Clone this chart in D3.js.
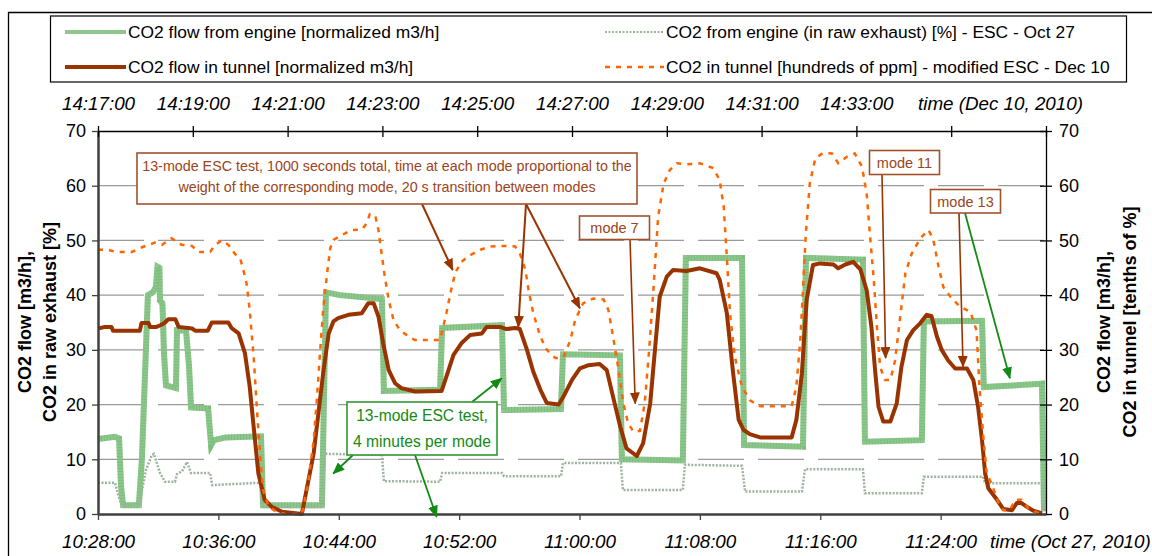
<!DOCTYPE html>
<html>
<head>
<meta charset="utf-8">
<script src="https://cdn.jsdelivr.net/npm/d3@7"></script>
<style>
body { margin: 0; background: #fff; }
svg text { font-family: "Liberation Sans", Arial, sans-serif; }
</style>
</head>
<body>
<div id="chart"></div>
<script>
// ---- data ----
// Oct 27 run (bottom time axis), [seconds after 10:28:00, value]
var engineFlow = [[0,13.7],[68,14.1],[84,13.8],[92,5],[100,1.6],[163,1.6],[175,10],[191,30],[199,40],[219,40.5],[231,41.5],[237,45.2],[245,45],[247,39],[257,38.5],[263,29.5],[271,23.5],[311,23],[315,33.6],[351,33.5],[363,27],[371,19.5],[439,19.3],[451,12.6],[462,13.5],[510,14],[650,14.2],[658,1.6],[893,1.6],[909,40.5],[965,40],[1132,39.3],[1140,22.5],[1364,22.7],[1372,34],[1611,34.5],[1619,19],[1846,19.2],[1854,29.2],[2081,29],[2089,10],[2332,9.8],[2344,46.8],[2568,46.8],[2576,12.6],[2811,12.3],[2823,46.8],[3050,46.5],[3058,13.2],[3285,13.5],[3293,35.2],[3525,35.3],[3532,23.2],[3764,23.8],[3772,0.5]];
var rawExhaust = [[0,5.7],[68,5.7],[84,3],[96,1.4],[163,1.4],[191,8],[215,10.8],[223,11],[247,7.5],[267,5.9],[307,5.9],[315,7.3],[335,7.8],[355,9.5],[371,7.5],[447,7.5],[455,5.3],[646,5.7],[658,1.3],[893,1.3],[905,11],[1132,10.8],[1140,6],[1364,5.9],[1372,7.5],[1611,7.5],[1619,6.9],[1846,6.9],[1854,9.3],[2085,9.3],[2093,4.4],[2332,4.4],[2340,9],[2568,8.8],[2580,4.1],[2807,4.1],[2819,8.2],[3050,8.2],[3058,3.8],[3285,3.8],[3293,6.8],[3529,6.8],[3537,5.6],[3764,5.6],[3772,0.5]];

// Dec 10 run (top time axis), [seconds after 14:17:00, value]
var tunnelFlow = [[0,33.9],[9,34.2],[17,34.2],[19,33.5],[53,33.5],[55,34.9],[64,34.9],[66,34.2],[74,34.2],[79,34.5],[85,35],[89,35.6],[98,35.6],[102,34.2],[119,33.9],[123,33.5],[139,33.5],[144,35],[165,35],[169,34],[178,33],[186,29.4],[192,23.3],[197,16],[203,7.4],[211,2.6],[220,1.3],[233,0.4],[258,0],[264,4.4],[273,11.1],[279,18.4],[285,25.7],[292,33],[298,35.2],[304,35.8],[317,36.4],[334,36.7],[342,38.5],[349,38.5],[355,36.1],[361,31.2],[368,26.3],[376,23.9],[384,23],[401,22.4],[435,22.5],[441,25.1],[450,29.1],[460,31.2],[471,32.7],[486,33],[492,34.2],[509,34.2],[517,33.8],[528,34],[534,33.8],[543,30],[551,26],[560,22.7],[568,20.3],[583,20],[589,21.4],[600,24.5],[610,26.6],[621,27.2],[635,27.4],[644,26.3],[652,21.4],[661,16],[669,12],[682,10.6],[690,12.9],[699,20.2],[705,30],[711,39.7],[720,43.4],[728,44.6],[745,44.4],[762,44.9],[783,44],[787,42.8],[796,36.7],[804,25.7],[811,17.2],[817,15.4],[825,14.6],[838,14],[878,14],[884,17.2],[891,25.7],[897,39.1],[905,45.5],[914,45.8],[931,45.6],[937,44.9],[946,45.6],[956,46.1],[965,44.7],[973,40.9],[979,34.2],[984,25.7],[988,19.6],[994,16.9],[1003,16.9],[1011,20.2],[1017,26.9],[1024,31.8],[1032,33.6],[1041,34.9],[1049,36.4],[1055,36.2],[1062,32.4],[1068,30],[1076,28.1],[1085,26.6],[1100,26.6],[1108,24.5],[1114,19.6],[1119,13.5],[1123,7.4],[1127,4.7],[1138,2.6],[1146,0.9],[1157,0.7],[1163,2],[1169,2],[1176,1.3],[1184,0.6],[1195,0.1]];
var tunnelPpm = [[0,48.3],[13,48.3],[22,47.9],[43,47.9],[53,48.6],[64,49.2],[72,49.6],[81,49.2],[93,50.4],[106,49.2],[119,49],[127,47.9],[142,47.9],[148,49.2],[157,50],[165,49.2],[173,47.6],[180,46.7],[184,44.6],[188,42.2],[192,37.3],[197,28.8],[201,19.6],[205,11.1],[209,4.4],[216,1.3],[226,0.4],[237,0],[258,0],[266,5.6],[273,13.5],[277,20.8],[281,29.4],[285,37.3],[290,44],[294,48.6],[298,50.1],[309,51],[321,51.9],[334,52],[340,53.1],[344,54.8],[351,54.5],[355,51.9],[359,47.6],[363,43.4],[368,39.1],[374,35.5],[382,33.6],[391,32.7],[401,31.8],[433,31.8],[441,36.7],[446,40.3],[452,44],[460,46.1],[471,47.3],[484,48.3],[496,48.9],[513,49],[528,48.9],[534,47.6],[541,44.6],[545,40.9],[551,36.7],[560,32.4],[568,30],[579,28.5],[589,28.6],[598,31.8],[604,35.5],[614,38.5],[627,39.4],[640,39.2],[646,37.3],[652,32.4],[659,26.3],[665,20.2],[671,16.6],[678,15],[686,15.2],[692,20.2],[697,28.8],[703,40.9],[709,54.3],[716,60.4],[724,62.9],[733,64.1],[745,63.9],[762,64.1],[779,63.2],[787,61],[792,56.2],[796,47],[800,36.7],[806,28.8],[815,23.3],[825,20.8],[838,19.7],[878,19.7],[884,23.3],[889,31.8],[893,42.8],[896,51.3],[901,60.4],[908,65],[918,66],[929,65.9],[937,64.1],[948,65.3],[958,65.9],[967,63.5],[973,58.6],[977,51.3],[982,42.8],[986,34.2],[990,26.9],[996,24.5],[1003,24.5],[1009,28.1],[1015,35.5],[1022,44],[1030,47.6],[1041,50.4],[1051,51.9],[1057,50.4],[1064,45.2],[1070,41.5],[1079,39.7],[1091,37.9],[1104,37],[1112,33.6],[1116,22.7],[1121,13.5],[1125,7.4],[1131,5.6],[1140,2],[1146,0.7],[1154,0.7],[1161,2.6],[1169,2.6],[1178,1],[1192,0.1]];

var bottomDay = "2010-10-27";
var bottomRange = ["10:28:00", "11:31:00"];
var bottomTicks = ["10:28:00", "10:36:00", "10:44:00", "10:52:00", "11:00:00", "11:08:00", "11:16:00", "11:24:00"];
var topDay = "2010-12-10";
var topRange = ["14:17:00", "14:37:00"];
var topTicks = ["14:17:00", "14:19:00", "14:21:00", "14:23:00", "14:25:00", "14:27:00", "14:29:00", "14:31:00", "14:33:00", "14:35:00", "14:37:00"];
var topLabelled = ["14:17:00", "14:19:00", "14:21:00", "14:23:00", "14:25:00", "14:27:00", "14:29:00", "14:31:00", "14:33:00"];
var yTicks = [0, 10, 20, 30, 40, 50, 60, 70];

var legendNames = [
    "CO2 flow from engine [normalized m3/h]",
    "CO2 flow in tunnel [normalized m3/h]",
    "CO2 from engine (in raw exhaust) [%] - ESC - Oct 27",
    "CO2 in tunnel [hundreds of ppm] - modified ESC - Dec 10"
];

// ---- layout ----
var margin = {top: 131, right: 106, bottom: 42, left: 98};
var width = 1152 - margin.left - margin.right;
var height = 556 - margin.top - margin.bottom;

var brown = "#993300";
var boxBrown = "#a0522d";
var textBrown = "#9a4420";
var green = "#138a13";

var parseTime = d3.timeParse("%Y-%m-%d %H:%M:%S");
var fmt = d3.timeFormat("%H:%M:%S");

var x_bottom = d3.scaleTime()
    .domain(bottomRange.map(function(t) { return parseTime(bottomDay + " " + t); }))
    .range([0, width]);
var x_top = d3.scaleTime()
    .domain(topRange.map(function(t) { return parseTime(topDay + " " + t); }))
    .range([0, width]);
var y_scale = d3.scaleLinear().domain([0, 70]).range([height, 0]);

var bottomStart = x_bottom.domain()[0].getTime();
var topStart = x_top.domain()[0].getTime();

function bx(sec) { return x_bottom(new Date(bottomStart + sec * 1000)); }
function tx(sec) { return x_top(new Date(topStart + sec * 1000)); }

var lineBottom = d3.line()
    .x(function(d) { return bx(d[0]); })
    .y(function(d) { return y_scale(d[1]); });
var lineTop = d3.line()
    .x(function(d) { return tx(d[0]); })
    .y(function(d) { return y_scale(d[1]); });

var svg = d3.select("#chart").append("svg")
    .attr("width", 1152)
    .attr("height", 556);

var defs = svg.append("defs");
[["head_brown", brown], ["head_green", green]].forEach(function(m) {
    defs.append("marker")
        .attr("id", m[0])
        .attr("markerUnits", "userSpaceOnUse")
        .attr("markerWidth", 12).attr("markerHeight", 10)
        .attr("refX", 11).attr("refY", 5)
        .attr("orient", "auto")
        .append("path")
        .attr("d", "M0,0L12,5L0,10Z")
        .attr("fill", m[1]);
});

// outer frame
svg.append("path")
    .attr("d", "M8.5,556V12.5H1152")
    .attr("fill", "none")
    .attr("stroke", "#000")
    .attr("stroke-width", 1.3);

var g = svg.append("g")
    .attr("transform", "translate(" + margin.left + "," + margin.top + ")");

// gridlines
g.append("g")
    .selectAll("line")
    .data(yTicks.filter(function(v) { return v > 0 && v < 70; }))
    .enter().append("line")
    .attr("x1", 0).attr("x2", width)
    .attr("y1", function(d) { return y_scale(d); })
    .attr("y2", function(d) { return y_scale(d); })
    .attr("stroke", "#9a9a9a")
    .attr("stroke-width", 1.2)
    .attr("stroke-dasharray", "46,14");

// series
g.append("path")
    .attr("d", lineBottom(engineFlow))
    .attr("fill", "none")
    .attr("stroke", "#8cc88c")
    .attr("stroke-width", 6);
g.append("path")
    .attr("d", lineBottom(engineFlow))
    .attr("fill", "none")
    .attr("stroke", "#6aae6a")
    .attr("stroke-width", 6)
    .attr("stroke-dasharray", "1,2")
    .attr("opacity", 0.45);
g.append("path")
    .attr("d", lineBottom(rawExhaust))
    .attr("fill", "none")
    .attr("stroke", "#9db39d")
    .attr("stroke-width", 2.5)
    .attr("stroke-dasharray", "2,1.5");
g.append("path")
    .attr("d", lineTop(tunnelFlow))
    .attr("fill", "none")
    .attr("stroke", brown)
    .attr("stroke-width", 4)
    .attr("stroke-linejoin", "round");
g.append("path")
    .attr("d", lineTop(tunnelPpm))
    .attr("fill", "none")
    .attr("stroke", "#ff6600")
    .attr("stroke-width", 2.5)
    .attr("stroke-dasharray", "5,6");

// axes
var axisLeft = g.append("g")
    .call(d3.axisLeft(y_scale).tickValues(yTicks).tickSize(6).tickSizeOuter(0).tickPadding(6));
axisLeft.select(".domain").attr("stroke", "#404040").attr("stroke-width", 2.5);
axisLeft.selectAll(".tick line").attr("stroke", "#404040").attr("stroke-width", 1.3);
axisLeft.selectAll(".tick text").style("font-size", "18px").attr("fill", "#000");

var axisRight = g.append("g")
    .attr("transform", "translate(" + width + ",0)")
    .call(d3.axisRight(y_scale).tickValues(yTicks).tickSize(6).tickSizeOuter(0).tickPadding(7));
axisRight.select(".domain").attr("stroke", "#000").attr("stroke-width", 1.3);
axisRight.selectAll(".tick line").attr("x1", -6).attr("stroke", "#000").attr("stroke-width", 1.3);
axisRight.selectAll(".tick text").style("font-size", "18px").attr("fill", "#000");

var axisBottom = g.append("g")
    .attr("transform", "translate(0," + height + ")")
    .call(d3.axisBottom(x_bottom)
        .tickValues(bottomTicks.map(function(t) { return parseTime(bottomDay + " " + t); }))
        .tickFormat(fmt)
        .tickSize(6).tickSizeOuter(0));
axisBottom.select(".domain").attr("stroke", "#404040").attr("stroke-width", 2.5);
axisBottom.selectAll(".tick line").attr("stroke", "#404040").attr("stroke-width", 1.3);
axisBottom.selectAll(".tick text")
    .attr("y", 34).attr("dy", 0)
    .style("font-size", "18.8px").style("font-style", "italic").attr("fill", "#000");

var axisTop = g.append("g")
    .call(d3.axisTop(x_top)
        .tickValues(topTicks.map(function(t) { return parseTime(topDay + " " + t); }))
        .tickFormat(function(d) { var s = fmt(d); return topLabelled.indexOf(s) >= 0 ? s : ""; })
        .tickSize(5).tickSizeOuter(0));
axisTop.select(".domain").attr("stroke", "#000").attr("stroke-width", 1.3);
axisTop.selectAll(".tick line").attr("y1", 6).attr("stroke", "#000").attr("stroke-width", 1.3);
axisTop.selectAll(".tick text")
    .attr("y", -21).attr("dy", 0)
    .style("font-size", "18.8px").style("font-style", "italic").attr("fill", "#000");

svg.append("text")
    .attr("x", 918).attr("y", 110)
    .style("font-size", "18.8px").style("font-style", "italic")
    .text("time (Dec 10, 2010)");
svg.append("text")
    .attr("x", 990).attr("y", 548)
    .style("font-size", "18.8px").style("font-style", "italic")
    .text("time (Oct 27, 2010)");

// axis titles
[[31, "CO2 flow [m3/h],"], [56, "CO2 in raw exhaust [%]"]].forEach(function(t) {
    svg.append("text")
        .attr("transform", "translate(" + t[0] + ",322) rotate(-90)")
        .attr("text-anchor", "middle")
        .style("font-size", "18px").style("font-weight", "bold")
        .text(t[1]);
});
[[1110, "CO2 flow [m3/h],"], [1136, "CO2 in tunnel [tenths of %]"]].forEach(function(t) {
    svg.append("text")
        .attr("transform", "translate(" + t[0] + ",322) rotate(-90)")
        .attr("text-anchor", "middle")
        .style("font-size", "18px").style("font-weight", "bold")
        .text(t[1]);
});

// legend
var legend = svg.append("g");
legend.append("rect")
    .attr("x", 50.5).attr("y", 16)
    .attr("width", 1076).attr("height", 66)
    .attr("fill", "#fff").attr("stroke", "#000").attr("stroke-width", 1.2);

var legendItems = [
    {x: 65, y: 32, name: legendNames[0], stroke: "#8cc88c", w: 4, dash: null},
    {x: 65, y: 67, name: legendNames[1], stroke: brown, w: 4, dash: null},
    {x: 605, y: 32, name: legendNames[2], stroke: "#9db39d", w: 2, dash: "2,1.5"},
    {x: 605, y: 67, name: legendNames[3], stroke: "#ff6600", w: 2.5, dash: "5,6"}
];
legendItems.forEach(function(d, i) {
    var len = i < 2 ? 61 : 59;
    legend.append("line")
        .attr("x1", d.x).attr("x2", d.x + len)
        .attr("y1", d.y).attr("y2", d.y)
        .attr("stroke", d.stroke).attr("stroke-width", d.w)
        .attr("stroke-dasharray", d.dash);
    legend.append("text")
        .attr("x", d.x + len + 2).attr("y", d.y + 6)
        .style("font-size", "17.4px")
        .text(d.name);
});

// annotations
var notes = svg.append("g");

function box(x, y, w, h, stroke) {
    notes.append("rect")
        .attr("x", x).attr("y", y).attr("width", w).attr("height", h)
        .attr("fill", "#fff").attr("stroke", stroke).attr("stroke-width", 1.6);
}
function label(x, y, s, fill, size) {
    notes.append("text")
        .attr("x", x).attr("y", y)
        .attr("text-anchor", "middle")
        .attr("fill", fill)
        .style("font-size", size)
        .text(s);
}
function arrow(x1, y1, x2, y2, colour, marker, w) {
    notes.append("line")
        .attr("x1", x1).attr("y1", y1)
        .attr("x2", x2).attr("y2", y2)
        .attr("stroke", colour).attr("stroke-width", w)
        .attr("marker-end", "url(#" + marker + ")");
}
function topPt(sec, v) { return [margin.left + tx(sec), margin.top + y_scale(v)]; }
function botPt(sec, v) { return [margin.left + bx(sec), margin.top + y_scale(v)]; }

// big brown note
var p;
p = topPt(449, 44.6); arrow(422, 204, p[0], p[1], brown, "head_brown", 2);
p = topPt(532, 34.2); arrow(526, 204, p[0], p[1], brown, "head_brown", 2);
p = topPt(610, 37.6); arrow(526, 204, p[0], p[1], brown, "head_brown", 2);
box(137, 153, 500, 51, boxBrown);
label(387, 170.5, "13-mode ESC test, 1000 seconds total, time at each mode proportional to the", textBrown, "14.3px");
label(387, 192, "weight of the corresponding mode, 20 s transition between modes", textBrown, "14.3px");

// mode notes
p = topPt(680, 20.2); arrow(630, 239, p[0], p[1], brown, "head_brown", 1.6);
box(579.5, 216, 70, 23.5, boxBrown);
label(614.5, 233, "mode 7", textBrown, "14.5px");

p = topPt(997, 28.5); arrow(882, 174, p[0], p[1], brown, "head_brown", 1.6);
box(869.5, 150.5, 70, 24, boxBrown);
label(904.5, 168, "mode 11", textBrown, "14.5px");

p = topPt(1095, 26.9); arrow(959, 213, p[0], p[1], brown, "head_brown", 1.6);
p = botPt(3636, 24.8); arrow(965, 213, p[0], p[1], green, "head_green", 1.8);
box(930.5, 189.5, 70, 23.5, boxBrown);
label(965.5, 207, "mode 13", textBrown, "14.5px");

// green note
p = botPt(1610, 24.8); arrow(472, 402, p[0], p[1], green, "head_green", 1.8);
p = botPt(1350, -0.5); arrow(415, 455, p[0], p[1], green, "head_green", 1.8);
p = botPt(938, 7.4); arrow(353, 455, p[0], p[1], green, "head_green", 1.8);
box(347, 402, 150, 53, "#2f9a2f");
label(422, 421, "13-mode ESC test,", green, "15.6px");
label(422, 446.5, "4 minutes per mode", green, "15.6px");
</script>
</body>
</html>
